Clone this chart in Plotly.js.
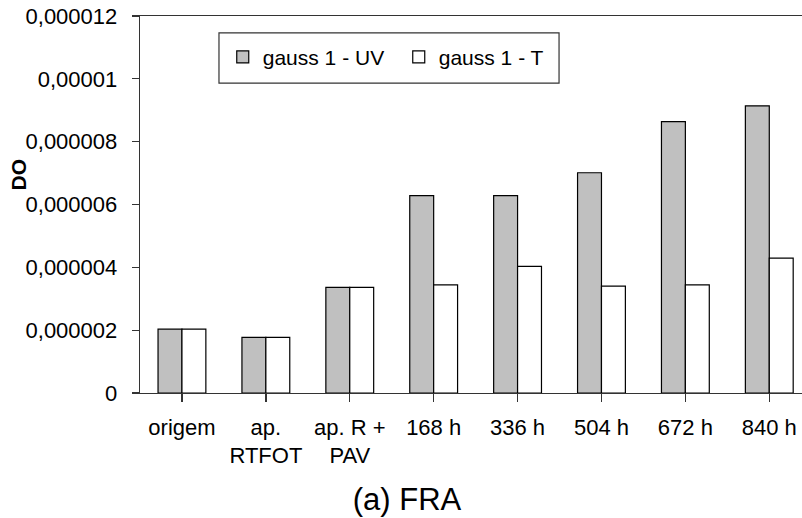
<!DOCTYPE html>
<html>
<head>
<meta charset="utf-8">
<script src="https://cdn.plot.ly/plotly-3.0.1.min.js"></script>
<style>html,body{margin:0;padding:0;background:#fff;}#chart{width:802px;height:518px;}</style>
</head>
<body>
<div id="chart"></div>
<script>
var categories = ["origem", "ap.<br>RTFOT", "ap. R +<br>PAV", "168 h", "336 h", "504 h", "672 h", "840 h"];
var gaussUV = [2.03e-6, 1.77e-6, 3.36e-6, 6.28e-6, 6.28e-6, 7.01e-6, 8.64e-6, 9.14e-6];
var gaussT  = [2.03e-6, 1.77e-6, 3.36e-6, 3.44e-6, 4.03e-6, 3.40e-6, 3.44e-6, 4.29e-6];
var yTickVals = [0, 2e-6, 4e-6, 6e-6, 8e-6, 10e-6, 12e-6];
var yTickText = ["0", "0,000002", "0,000004", "0,000006", "0,000008", "0,00001", "0,000012"];
var seriesNames = ["gauss 1 - UV", "gauss 1 - T"];

var FONT = "Liberation Sans, Arial, sans-serif";
var idx = categories.map(function(_, i){ return i; });

var traces = [
  {type: "bar", x: idx, y: gaussUV, name: seriesNames[0],
   marker: {color: "#c0c0c0", line: {color: "#000", width: 1.2}}},
  {type: "bar", x: idx, y: gaussT, name: seriesNames[1],
   marker: {color: "#ffffff", line: {color: "#000", width: 1.2}}}
];

var layout = {
  width: 802, height: 518,
  margin: {l: 140, r: 0, t: 16, b: 125},
  paper_bgcolor: "#fff", plot_bgcolor: "#fff",
  font: {family: FONT, size: 22, color: "#000"},
  barmode: "group", bargap: 0.43, bargroupgap: 0,
  showlegend: true,
  legend: {orientation: "h", x: 0.125, y: 0.945, xanchor: "left", yanchor: "top",
           bgcolor: "rgba(0,0,0,0)", borderwidth: 0,
           font: {family: FONT, size: 21, color: "#000"},
           entrywidth: 131, entrywidthmode: "pixels"},
  title: {text: "(a) FRA", font: {family: FONT, size: 31, color: "#000"},
          x: 407 / 802, xanchor: "center", xref: "container", y: 0.036, yanchor: "middle", yref: "container"},
  xaxis: {tickmode: "array", tickvals: idx, ticktext: categories,
          range: [-0.5, 7.39], showgrid: false, zeroline: false,
          showline: true, linecolor: "#333", linewidth: 1.3, mirror: true,
          ticks: "outside", tickson: "boundaries", ticklen: 8, tickcolor: "#333", tickwidth: 1.3,
          ticklabelstandoff: 6,
          tickfont: {family: FONT, size: 22, color: "#000"}, fixedrange: true},
  yaxis: {tickmode: "array", tickvals: yTickVals, ticktext: yTickText,
          range: [0, 12e-6], showgrid: false, zeroline: false,
          showline: true, linecolor: "#333", linewidth: 1.3,
          ticks: "outside", ticklen: 7, tickcolor: "#333", tickwidth: 1.3,
          ticklabelstandoff: 10,
          tickfont: {family: FONT, size: 22, color: "#000"}, fixedrange: true},
  shapes: [{type: "rect", xref: "paper", yref: "paper",
            x0: 0.1193, x1: 0.633, y0: 0.822, y1: 0.955,
            line: {color: "#333", width: 1.2}, fillcolor: "rgba(0,0,0,0)", layer: "above"}],
  annotations: [{text: "<b>DO</b>", xref: "paper", yref: "paper",
                 x: (17.5 - 140) / 662, y: (393 - 174) / 377, xanchor: "center", yanchor: "middle",
                 textangle: -90, showarrow: false,
                 font: {family: FONT, size: 21, color: "#000"}}]
};

Plotly.newPlot("chart", traces, layout, {displayModeBar: false, staticPlot: true});
</script>
</body>
</html>
